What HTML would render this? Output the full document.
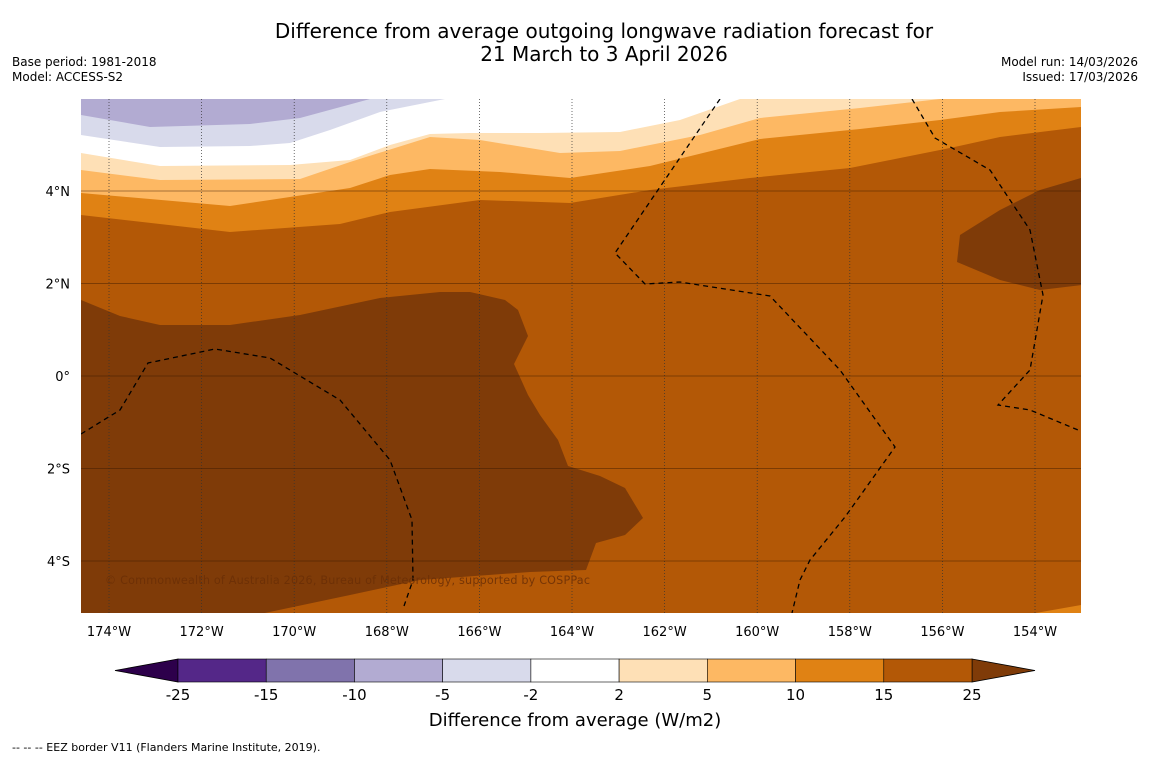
<!DOCTYPE html>
<html><head><meta charset="utf-8"><style>
body{margin:0;background:#fff;width:1150px;height:758px;overflow:hidden;font-family:"Liberation Sans","DejaVu Sans",sans-serif}
</style></head><body>
<svg id="chart" width="1150" height="758" xmlns="http://www.w3.org/2000/svg" font-family="DejaVu Sans, Liberation Sans, sans-serif">
<text x="604" y="38" font-size="20" text-anchor="middle">Difference from average outgoing longwave radiation forecast for</text>
<text x="604" y="61" font-size="20" text-anchor="middle">21 March to 3 April 2026</text>
<text x="12" y="66" font-size="12">Base period: 1981-2018</text>
<text x="12" y="81" font-size="12">Model: ACCESS-S2</text>
<text x="1138" y="66" font-size="12" text-anchor="end">Model run: 14/03/2026</text>
<text x="1138" y="81" font-size="12" text-anchor="end">Issued: 17/03/2026</text>
<defs><clipPath id="mapclip"><rect x="81" y="99" width="1000" height="514"/></clipPath></defs>
<g id="map" clip-path="url(#mapclip)"></g>
<g id="axes"></g>
<g id="cbar"></g>
<text x="105" y="584" font-size="11.2" fill="#6b2f06" opacity="0.85" textLength="485">© Commonwealth of Australia 2026, Bureau of Meteorology, supported by COSPPac</text>
<text x="575" y="726" font-size="18" text-anchor="middle">Difference from average (W/m2)</text>
<text x="12" y="751" font-size="11">--  --  -- EEZ border V11 (Flanders Marine Institute, 2019).</text>
</svg>
<script>
const lonTicks=[-174,-172,-170,-168,-166,-164,-162,-160,-158,-156,-154];
const latTicks=[4,2,0,-2,-4];
const latLabels=["4°N","2°N","0°","2°S","4°S"];
const cbarLevels=["-25","-15","-10","-5","-2","2","5","10","15","25"];
const cbarColors=["#542788","#8073ac","#b2abd2","#d8daeb","#ffffff","#fee0b6","#fdb863","#e08214","#b35806"];
function X(lon){return 109+(lon+174)*46.3;}
function Y(lat){return 376-lat*46.25;}
function lonOf(px){return (px-109)/46.3-174;}
function latOf(py){return (376-py)/46.25;}
const purpleEdge=[[81,115],[150,127],[250,124],[300,118],[370,99]].map(p=>[lonOf(p[0]),latOf(p[1])]);
const lavEdge=[[81,135],[160,147],[250,146],[290,143],[330,130],[380,112],[445,99]].map(p=>[lonOf(p[0]),latOf(p[1])]);
const whiteEdge=[[81,153],[160,166],[290,165],[350,160],[390,145],[430,134],[470,133],[540,133],[620,132],[680,120],[740,99]].map(p=>[lonOf(p[0]),latOf(p[1])]);
const lightEdge=[[81,170],[160,180],[300,179],[350,162],[430,137],[480,140],[560,153],[620,151],[700,135],[760,118],[860,108],[940,99]].map(p=>[lonOf(p[0]),latOf(p[1])]);
const orEdge=[[81,193],[230,206],[350,188],[390,175],[430,169],[500,172],[570,178],[650,166],[760,139],[860,129],[940,120],[1000,112],[1081,107]].map(p=>[lonOf(p[0]),latOf(p[1])]);
const darkOrEdge=[[81,215],[230,232],[340,224],[390,212],[480,200],[570,203],[650,190],[750,178],[850,168],[900,158],[950,148],[1000,137],[1081,127]].map(p=>[lonOf(p[0]),latOf(p[1])]);
const darkLeft=[[81,300],[120,316],[160,325],[230,325],[300,315],[380,298],[440,292],[470,292],[505,300],[518,310],[528,336],[514,364],[528,395],[540,415],[558,440],[568,466],[600,476],[625,488],[643,518],[625,535],[596,543],[586,570],[530,572],[420,580],[350,595],[260,614],[81,614]].map(p=>[lonOf(p[0]),latOf(p[1])]);
const darkRight=[[960,235],[1000,210],[1040,190],[1081,178],[1082,285],[1040,290],[1000,280],[957,262]].map(p=>[lonOf(p[0]),latOf(p[1])]);
const orBottom=[[1030,614],[1081,605],[1082,614]].map(p=>[lonOf(p[0]),latOf(p[1])]);
const eez1=[[720,99],[615,253],[645,284],[680,282],[770,296],[840,370],[895,447],[845,517],[810,560],[800,580],[792,613]].map(p=>[lonOf(p[0]),latOf(p[1])]);
const eez2=[[912,99],[935,138],[990,170],[1030,230],[1043,295],[1030,370],[998,405],[1030,410],[1078,430]].map(p=>[lonOf(p[0]),latOf(p[1])]);
const eez3=[[81,434],[120,410],[148,363],[215,349],[270,358],[340,400],[390,460],[412,520],[413,580],[404,606]].map(p=>[lonOf(p[0]),latOf(p[1])]);
const NS="http://www.w3.org/2000/svg";
function mk(tag,attrs,parent){const e=document.createElementNS(NS,tag);for(const k in attrs)e.setAttribute(k,attrs[k]);parent.appendChild(e);return e;}
function pts(arr){return arr.map(p=>X(p[0]).toFixed(1)+","+Y(p[1]).toFixed(1)).join(" ");}
const map=document.getElementById('map');
let r=mk('rect',{x:81,y:99,width:1000,height:514,fill:'#b35806'},map);


const bands=[[darkOrEdge,'#e08214','band-10-15'],[orEdge,'#fdb863','band-5-10'],[lightEdge,'#fee0b6','band-2-5'],[whiteEdge,'#ffffff','band-neutral'],[lavEdge,'#d8daeb','band-minus5-minus2'],[purpleEdge,'#b2abd2','band-minus10-minus5']];
bands.forEach(b=>{
 const edge=b[0];
 const last=edge[edge.length-1];
 let ptsStr;
 if(X(last[0])>=1080) ptsStr="80,98 80,"+Y(edge[0][1]).toFixed(1)+" "+pts(edge)+" 1082,"+Y(last[1]).toFixed(1)+" 1082,98";
 else ptsStr="80,98 80,"+Y(edge[0][1]).toFixed(1)+" "+pts(edge)+" "+X(last[0]).toFixed(1)+",98";
 const p=mk('polygon',{points:ptsStr,fill:b[1]},map);
 
 
});
[[darkLeft,'#7f3b08','region-above-25-west'],[darkRight,'#7f3b08','region-above-25-east'],[orBottom,'#e08214','band-10-15-south']].forEach(b=>{
 const p=mk('polygon',{points:pts(b[0]),fill:b[1]},map);
 
 
});
lonTicks.forEach(l=>{const g=mk('line',{x1:X(l),x2:X(l),y1:99,y2:613,stroke:'#333','stroke-width':0.7,'stroke-dasharray':'1,2'},map);

});
latTicks.forEach(l=>{const g=mk('line',{x1:81,x2:1081,y1:Y(l),y2:Y(l),stroke:'#3a1a02','stroke-width':0.7,opacity:0.6},map);

});
[eez1,eez2,eez3].forEach(e=>{const p=mk('polyline',{points:pts(e),fill:'none',stroke:'#000','stroke-width':1.3,'stroke-dasharray':'5,4'},map);

});
const axes=document.getElementById('axes');
lonTicks.forEach(l=>{const t=mk('text',{x:X(l),y:636,'font-size':13,'text-anchor':'middle'},axes);t.textContent=Math.abs(l)+"°W";

});
latTicks.forEach((l,i)=>{const t=mk('text',{x:70,y:Y(l)+5,'font-size':13,'text-anchor':'end'},axes);t.textContent=latLabels[i];

});
const cb=document.getElementById('cbar');
const cx0=178,cx1=972,cy=659,ch=23,bw=(cx1-cx0)/cbarColors.length;
let tl=mk('polygon',{points:`${cx0},${cy} 115,${cy+ch/2} ${cx0},${cy+ch}`,fill:'#2d004b',stroke:'#000','stroke-width':0.8},cb);


let tr=mk('polygon',{points:`${cx1},${cy} 1035,${cy+ch/2} ${cx1},${cy+ch}`,fill:'#7f3b08',stroke:'#000','stroke-width':0.8},cb);


cbarColors.forEach((c,i)=>{const b=mk('rect',{x:cx0+i*bw,y:cy,width:bw,height:ch,fill:c,stroke:'#000','stroke-width':0.6},cb);

});
cbarLevels.forEach((v,i)=>{const t=mk('text',{x:cx0+i*bw,y:700,'font-size':15,'text-anchor':'middle'},cb);t.textContent=v;

});
</script>
</body></html>
